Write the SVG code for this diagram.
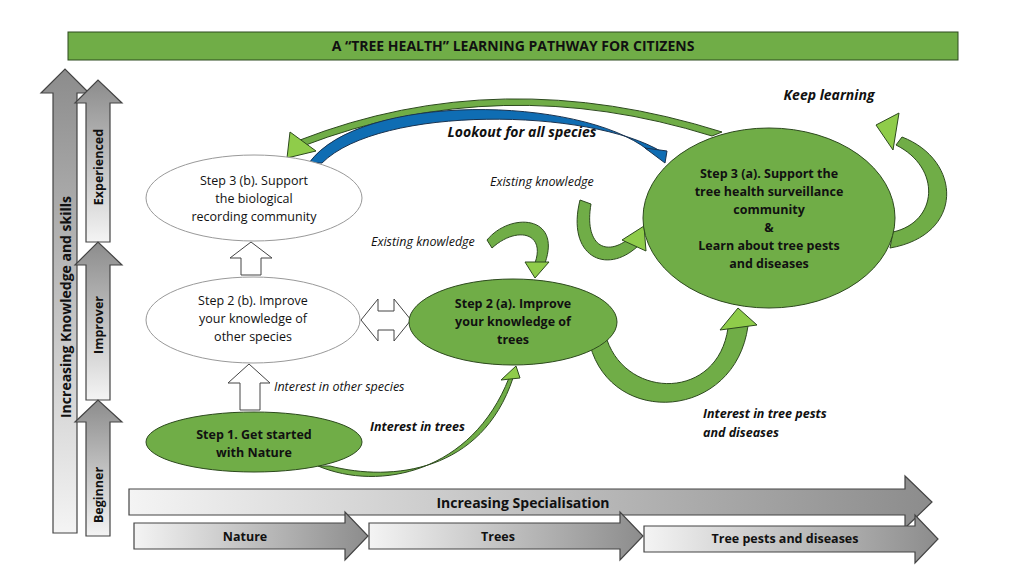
<svg xmlns="http://www.w3.org/2000/svg" width="1024" height="576" viewBox="0 0 1024 576">
<defs>
<linearGradient id="gv" x1="0" y1="1" x2="0" y2="0"><stop offset="0" stop-color="#f4f4f4"/><stop offset="1" stop-color="#8c8c8c"/></linearGradient>
<linearGradient id="gh" x1="0" y1="0" x2="1" y2="0"><stop offset="0" stop-color="#f4f4f4"/><stop offset="1" stop-color="#8c8c8c"/></linearGradient>
<style>
text{font-family:"Open Sans","Noto Sans",sans-serif;fill:#111}
.g{fill:#70ad47;stroke:#2d4a1e;stroke-width:1}
.lg{fill:#8fcc4a;stroke:#2d4a1e;stroke-width:1}
.w{fill:#fff;stroke:#999;stroke-width:1}
.ga{stroke:#444;stroke-width:1.2}
.hl{fill:#fff;stroke:#444;stroke-width:1}
.n{font-size:12.5px;text-anchor:middle}
.b{font-weight:bold}
.i{font-style:italic;font-size:12.5px}
</style>
</defs>
<rect x="0" y="0" width="1024" height="576" fill="#fff"/>
<g id="title"><rect x="68" y="32" width="890" height="28" class="g" stroke="#2d4a1e"/><text x="513" y="51" font-size="14" font-weight="bold" text-anchor="middle">A “TREE HEALTH” LEARNING PATHWAY FOR CITIZENS</text></g>
<g id="axis-knowledge">
<polygon class="ga" fill="url(#gv)" points="53,533 53,93 41,93 65,69 89,93 77,93 77,533"/>
<text transform="translate(71,307) rotate(-90)" font-size="14" font-weight="bold" text-anchor="middle">Increasing Knowledge and skills</text>
</g>
<g id="level-experienced"><polygon class="ga" fill="url(#gv)" points="86,242 86,103 75,103 98,80 122,103 110,103 110,242"/><text transform="translate(103,167) rotate(-90)" class="n b">Experienced</text></g>
<g id="level-improver"><polygon class="ga" fill="url(#gv)" points="86,400 86,265 75,265 98,242 122,265 110,265 110,400"/><text transform="translate(103,325) rotate(-90)" class="n b">Improver</text></g>
<g id="level-beginner"><polygon class="ga" fill="url(#gv)" points="86,536 86,422 75,422 98,400 122,422 110,422 110,536"/><text transform="translate(103,495) rotate(-90)" class="n b">Beginner</text></g>
<g id="axis-specialisation"><polygon class="ga" fill="url(#gh)" points="129,489 905,489 905,476 932,502 905,528 905,515 129,515"/><text x="523" y="508" font-size="14" font-weight="bold" text-anchor="middle">Increasing Specialisation</text></g>
<g id="stage-trees"><polygon class="ga" fill="url(#gh)" points="369,523 620,523 620,512 643,536 620,560 620,549 369,549"/><text x="498" y="541" class="n b">Trees</text></g>
<g id="stage-nature"><polygon class="ga" fill="url(#gh)" points="134,523 345,523 345,512 368,536 345,560 345,549 134,549"/><text x="245" y="541" class="n b">Nature</text></g>
<g id="stage-pests"><polygon class="ga" fill="url(#gh)" points="644,526 915,526 915,515 938,539 915,563 915,552 644,552"/><text x="785" y="543" class="n b">Tree pests and diseases</text></g>
<g id="connectors">
<path class="g" d="M722,132 Q500,62 300,140 L303,146 Q500,70 712,136 Z"/>
<polygon class="lg" points="290,132 287,158 316,151"/>
<path fill="#0f6db3" stroke="#1a3350" d="M309,163 C360,92 580,96 648,150 L662,152 C590,108 380,105 322,163 Z"/>
<polygon fill="#0f6db3" stroke="#1a3350" points="645,148 667,151 665,163"/>
<path class="g" d="M890,248 C965,235 962,160 902,137 L896,145 C942,168 938,222 893,232 Z"/>
<polygon class="lg" points="876,125 899,113 893,150"/>
<path class="g" d="M590,345 C612,428 735,420 748,326 L728,328 C718,400 628,400 607,340 Z"/>
<polygon class="lg" points="720,330 738,308 757,325"/>
<path class="g" d="M318,466 C380,492 472,472 509,378 L513,378 C482,472 392,482 330,466 Z"/>
<polygon class="lg" points="501,380 516,366 520,378"/>
<path class="g" d="M487,240 C510,212 562,215 545,263 L535,263 C546,232 516,226 492,248 Z"/>
<polygon class="lg" points="525,262 549,262 535,278"/>
<path class="g" d="M580,200 C566,256 606,276 638,246 L631,237 C605,259 584,244 591,204 Z"/>
<polygon class="lg" points="622,240 644,226 646,251"/>
<polygon class="hl" points="241,275 241,258 230,258 251,242 272,258 261,258 261,275"/>
<polygon class="hl" points="240,410 240,383 228,383 249,364 270,383 260,383 260,410"/>
<polygon class="hl" points="361,320 378,299 378,311 394,311 394,299 411,320 394,341 394,330 378,330 378,341"/>
</g>
<g id="step3b"><ellipse cx="254" cy="198" rx="108" ry="43" class="w"/><text class="n"><tspan x="254" y="185">Step 3 (b). Support</tspan><tspan x="254" y="203">the biological</tspan><tspan x="254" y="221">recording community</tspan></text></g>
<g id="step2b"><ellipse cx="253" cy="320" rx="107" ry="43" class="w"/><text class="n"><tspan x="253" y="305">Step 2 (b). Improve</tspan><tspan x="253" y="323">your knowledge of</tspan><tspan x="253" y="341">other species</tspan></text></g>
<g id="step1"><ellipse cx="254" cy="442" rx="108" ry="30" class="g" stroke="#7a9a6a"/><text class="n b"><tspan x="254" y="439">Step 1. Get started</tspan><tspan x="254" y="457">with Nature</tspan></text></g>
<g id="step2a"><ellipse cx="513" cy="322" rx="104" ry="43" class="g" stroke="#7a9a6a"/><text class="n b"><tspan x="513" y="308">Step 2 (a). Improve</tspan><tspan x="513" y="326">your knowledge of</tspan><tspan x="513" y="344">trees</tspan></text></g>
<g id="step3a"><ellipse cx="769" cy="218" rx="126" ry="90" class="g"/><text class="n b"><tspan x="769" y="178">Step 3 (a). Support the</tspan><tspan x="769" y="196">tree health surveillance</tspan><tspan x="769" y="214">community</tspan><tspan x="769" y="232">&amp;</tspan><tspan x="769" y="250">Learn about tree pests</tspan><tspan x="769" y="268">and diseases</tspan></text></g>
<g id="labels">
<text x="829" y="100" font-size="14" font-weight="bold" font-style="italic" text-anchor="middle">Keep learning</text>
<text x="522" y="137" font-size="14" font-weight="bold" font-style="italic" text-anchor="middle">Lookout for all species</text>
<text x="490" y="186" class="i" fill="#333">Existing  knowledge</text>
<text x="371" y="246" class="i">Existing knowledge</text>
<text x="274" y="391" class="i">Interest in other species</text>
<text x="370" y="431" class="i b">Interest in trees</text>
<text class="i b"><tspan x="703" y="418">Interest in tree pests</tspan><tspan x="703" y="437">and diseases</tspan></text>
</g>
</svg>
